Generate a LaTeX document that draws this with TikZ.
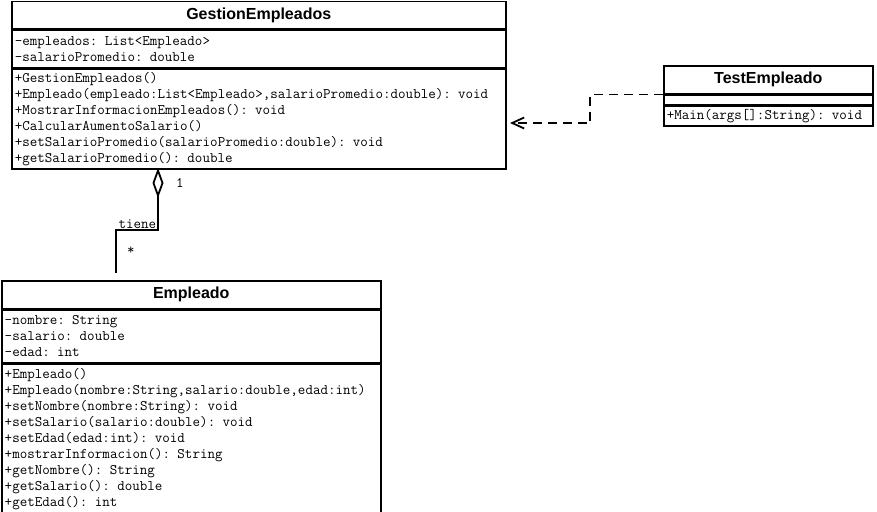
\documentclass[tikz,border=0pt]{standalone}
\usepackage{fontspec}
\usetikzlibrary{arrows.meta}
\newfontfamily\umlmono{Latin Modern Mono}
\newfontfamily\umltitle{Liberation Sans}

\begin{document}
\begin{tikzpicture}[x=1pt,y=-1pt,
  classname/.style={draw,line width=1.5pt,anchor=north west,inner sep=0pt,font=\umltitle\fontsize{16}{19}\selectfont\bfseries},
  members/.style={draw,line width=1.5pt,anchor=north west,inner xsep=3pt,inner ysep=0pt,align=left,font=\umlmono\fontsize{14.6}{16}\selectfont},
  depends/.style={line width=1.8pt,dash pattern=on 9pt off 6pt,-{Straight Barb[length=12pt,width=11pt]}},
  aggregation/.style={line width=1.8pt,{Diamond[open,length=30pt,width=11pt]}-},
  multiplicity/.style={font=\umlmono\fontsize{14.6}{16}\selectfont,inner sep=1pt}]
\useasboundingbox (0,0) rectangle (877,511);
% GestionEmpleados
\node[classname,minimum width=494pt,minimum height=27pt] (gest) at (11,1) {GestionEmpleados};
\node[members,text width=488pt,minimum height=37pt] (gestattr) at (gest.south west)
  {-empleados: List<Empleado>\\-salarioPromedio: double};
\node[members,text width=488pt,minimum height=100pt] (gestops) at (gestattr.south west)
  {+GestionEmpleados()\\
   +Empleado(empleado:List<Empleado>,salarioPromedio:double): void\\
   +MostrarInformacionEmpleados(): void\\
   +CalcularAumentoSalario()\\
   +setSalarioPromedio(salarioPromedio:double): void\\
   +getSalarioPromedio(): double};
% TestEmpleado
\node[classname,minimum width=209pt,minimum height=28pt] (test) at (663,65) {TestEmpleado};
\node[members,text width=203pt,minimum height=9pt] (testattr) at (test.south west) {};
\node[members,text width=203pt,minimum height=20pt] (testops) at (testattr.south west)
  {+Main(args[]:String): void};
% Empleado
\node[classname,minimum width=379pt,minimum height=28pt] (emp) at (1,280) {Empleado};
\node[members,text width=373pt,minimum height=52pt] (empattr) at (emp.south west)
  {-nombre: String\\-salario: double\\-edad: int};
\node[members,text width=373pt,minimum height=150pt] (empops) at (empattr.south west)
  {+Empleado()\\
   +Empleado(nombre:String,salario:double,edad:int)\\
   +setNombre(nombre:String): void\\
   +setSalario(salario:double): void\\
   +setEdad(edad:int): void\\
   +mostrarInformacion(): String\\
   +getNombre(): String\\
   +getSalario(): double\\
   +getEdad(): int};
% connectors
\coordinate (dep) at (510,123);
\coordinate (aggtop) at (158,168);
\coordinate (aggend) at (116,273);
\draw[depends] (test.south west) -- ++(-73,0) |- (dep);
\draw[aggregation] (aggtop) -- ++(0,62) node[multiplicity,anchor=south east] {tiene} -| (aggend);
\node[multiplicity] (one) at (180,183) {1};
\node[multiplicity] (many) at (131,251) {*};
\end{tikzpicture}
\end{document}
